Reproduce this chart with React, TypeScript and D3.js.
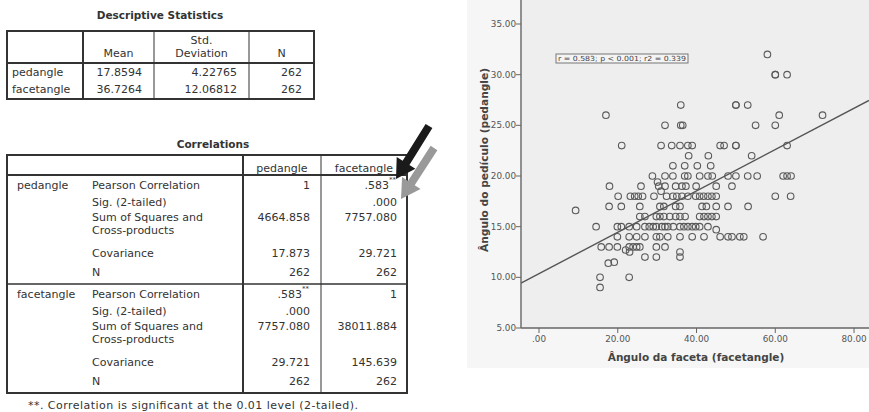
import React from "react";
import * as d3 from "d3";

// ---------- Data ----------
const descTitle = "Descriptive Statistics";
const descHeaders = ["Mean", "Std.\nDeviation", "N"];
const descVars = ["pedangle", "facetangle"];
const descMean = ["17.8594", "36.7264"];
const descSD = ["4.22765", "12.06812"];
const descN = ["262", "262"];

const corrTitle = "Correlations";
const corrVars = ["pedangle", "facetangle"];
const corrStats = ["Pearson Correlation", "Sig. (2-tailed)", "Sum of Squares and\nCross-products", "Covariance", "N"];
// values [group][stat][col]
const corrPed = [["1", ".583**"], ["", ".000"], ["4664.858", "7757.080"], ["17.873", "29.721"], ["262", "262"]];
const corrFacet = [[".583**", "1"], [".000", ""], ["7757.080", "38011.884"], ["29.721", "145.639"], ["262", "262"]];
const corrFootnote = "**. Correlation is significant at the 0.01 level (2-tailed).";

// regression from table stats
const meanX = 36.7264;
const meanY = 17.8594;
const covXY = 29.721;
const varX = 145.639;

const statLabel = "r = 0.583; p < 0.001; r2 = 0.339";
const xLabel = "Ângulo da faceta (facetangle)";
const yLabel = "Ângulo do pedículo (pedangle)";
const xTicks = [0, 20, 40, 60, 80];
const yTicks = [5, 10, 15, 20, 25, 30, 35];

// scatter points (facetangle, pedangle)
const facetAngle = [
  58, 60, 60, 63, 17, 61, 72, 36, 50, 50, 53, 32, 36, 36.5, 55, 60,
  21, 31, 33.7, 35.8, 37.8, 38.9, 46, 47, 50, 50, 63,
  38, 43, 54, 34, 37, 40.2, 43.6,
  28.8, 32, 34, 37, 37.8, 40.8, 42.9, 44, 48, 50, 53, 55.4, 62, 63, 64,
  17.9, 25.9, 30.4, 32, 34.7, 36.3, 37.3, 39.9, 45, 49, 31, 30.1,
  20.1, 23.2, 24.3, 25.2, 26.3, 29.2, 32.4, 34, 35, 36.3, 37.8, 39.8, 42.9, 45, 60, 63.9, 40.8, 41.8, 43.9,
  17.8, 20.9, 25.6, 30.7, 31.7, 34.7, 35.8, 41.4, 42.5, 45, 48, 53.1,
  9.3,
  25.6, 26.9, 29.8, 30.7, 31.7, 33.2, 34.7, 35.8, 37.1, 40.8, 41.9, 42.9, 43.9, 45,
  14.5, 19.9, 20.9, 22.9, 24.8, 26.9, 28, 29, 29.8, 31.2, 32, 32.7, 34.1, 35.8, 36.8, 37.8, 38.9, 39.8, 40.8, 42.9,
  45,
  19.9, 22.9, 24.8, 26.9, 29.8, 30.7, 32.7, 35.8, 38.9, 41.9, 46, 48, 49, 51, 52, 56.9,
  15.8, 17.8, 19.9, 22.9, 23.9, 24.8, 25.6, 29.8, 32,
  22, 23, 35.8,
  26.9, 29.8, 35.8,
  17.6, 19.1,
  15.5, 22.9,
  15.5,
];
const pedAngle = [
  32, 30, 30, 30, 26, 26, 26, 27, 27, 27, 27, 25, 25, 25, 25, 25,
  23, 23, 23, 23, 23, 23, 23, 23, 23, 23, 23,
  22, 22, 22, 21, 21, 21, 21,
  20, 20, 20, 20, 20, 20, 20, 20, 20, 20, 20, 20, 20, 20, 20,
  19, 19, 19, 19, 19, 19, 19, 19, 19, 19, 18.5, 19.4,
  18, 18, 18, 18, 18, 18, 18, 18, 18, 18, 18, 18, 18, 18, 18, 18, 18, 18, 18,
  17, 17, 17, 17, 17, 17, 17, 17, 17, 17, 17, 17,
  16.6,
  16, 16, 16, 16, 16, 16, 16, 16, 16, 16, 16, 16, 16, 16,
  15, 15, 15, 15, 15, 15, 15, 15, 15, 15, 15, 15, 15, 15, 15, 15, 15, 15, 15, 15,
  14.7,
  14, 14, 14, 14, 14, 14, 14, 14, 14, 14, 14, 14, 14, 14, 14, 14,
  13, 13, 13, 13, 13, 13, 13, 13, 13,
  12.7, 12.5, 12.5,
  12, 12, 12,
  11.4, 11.5,
  10, 10,
  9,
];

// ---------- Helpers ----------
const FONT = "'DejaVu Sans', Verdana, sans-serif";
const TXT = "#333";

function arrowPath(x1: number, y1: number, x2: number, y2: number, sw: number, hw: number, hl: number) {
  const dx = x2 - x1, dy = y2 - y1;
  const L = Math.hypot(dx, dy);
  const ux = dx / L, uy = dy / L;
  const px = -uy, py = ux;
  const bx = x2 - ux * hl, by = y2 - uy * hl;
  const pts = [
    [x1 + px * sw / 2, y1 + py * sw / 2],
    [bx + px * sw / 2, by + py * sw / 2],
    [bx + px * hw, by + py * hw],
    [x2, y2],
    [bx - px * hw, by - py * hw],
    [bx - px * sw / 2, by - py * sw / 2],
    [x1 - px * sw / 2, y1 - py * sw / 2],
  ];
  return "M" + pts.map((p) => p.join(",")).join("L") + "Z";
}

function ValueText({ x, y, v }: { x: number; y: number; v: string }) {
  if (v.endsWith("**")) {
    const base = v.slice(0, -2);
    return (
      <g>
        <text x={x - 8} y={y} textAnchor="end">{base}</text>
        <text x={x - 8} y={y - 7} fontSize={7}>**</text>
      </g>
    );
  }
  return <text x={x} y={y} textAnchor="end">{v}</text>;
}

function DescTable() {
  const cols = [7, 83, 154, 249, 314];
  const top = 31, hb = 63, bottom = 99;
  const rowY = [76, 93];
  return (
    <g fontFamily={FONT} fontSize={11} fill={TXT}>
      <text x={160} y={19} textAnchor="middle" fontWeight="bold" fontSize={10.5}>{descTitle}</text>
      {descHeaders.map((h, i) => {
        const cx = (cols[i + 1] + cols[i + 2]) / 2;
        const lines = h.split("\n");
        return lines.map((ln, j) => (
          <text key={i + "-" + j} x={cx} y={57 - (lines.length - 1 - j) * 13} textAnchor="middle">{ln}</text>
        ));
      })}
      {descVars.map((v, r) => (
        <g key={v}>
          <text x={12} y={rowY[r]}>{v}</text>
          <text x={cols[2] - 12} y={rowY[r]} textAnchor="end">{descMean[r]}</text>
          <text x={cols[3] - 12} y={rowY[r]} textAnchor="end">{descSD[r]}</text>
          <text x={cols[4] - 12} y={rowY[r]} textAnchor="end">{descN[r]}</text>
        </g>
      ))}
      <g fill="none" stroke="#333">
        <rect x={cols[0]} y={top} width={cols[4] - cols[0]} height={bottom - top} strokeWidth={2} />
        <line x1={cols[0]} x2={cols[4]} y1={hb} y2={hb} strokeWidth={2} />
        <line x1={cols[1]} x2={cols[1]} y1={top} y2={bottom} strokeWidth={2} />
        <line x1={cols[2]} x2={cols[2]} y1={top} y2={bottom} strokeWidth={1} />
        <line x1={cols[3]} x2={cols[3]} y1={top} y2={bottom} strokeWidth={1} />
      </g>
    </g>
  );
}

function CorrTable() {
  const cols = [7, 243, 321, 407];
  const top = 155, hb = 175, sep = 284, bottom = 393;
  const groupTop = [hb, sep];
  const offs = [14, 31, 46, 82, 101]; // baseline offsets from group top
  const groups = [corrPed, corrFacet];
  return (
    <g fontFamily={FONT} fontSize={11} fill={TXT}>
      <text x={213} y={148} textAnchor="middle" fontWeight="bold" fontSize={10.5}>{corrTitle}</text>
      <text x={(cols[1] + cols[2]) / 2} y={172} textAnchor="middle">{corrVars[0]}</text>
      <text x={(cols[2] + cols[3]) / 2} y={172} textAnchor="middle">{corrVars[1]}</text>
      {groups.map((g, gi) => {
        const gt = groupTop[gi];
        return (
          <g key={gi}>
            <text x={17} y={gt + offs[0]}>{corrVars[gi]}</text>
            {corrStats.map((s, si) => {
              const lines = s.split("\n");
              return (
                <g key={si}>
                  {lines.map((ln, j) => (
                    <text key={j} x={92} y={gt + offs[si] + j * 13}>{ln}</text>
                  ))}
                  <ValueText x={cols[2] - 11} y={gt + offs[si]} v={g[si][0]} />
                  <ValueText x={cols[3] - 10} y={gt + offs[si]} v={g[si][1]} />
                </g>
              );
            })}
          </g>
        );
      })}
      <text x={28} y={409} fontSize={11} textLength={330} lengthAdjust="spacing">{corrFootnote}</text>
      <g fill="none" stroke="#333">
        <rect x={cols[0]} y={top} width={cols[3] - cols[0]} height={bottom - top} strokeWidth={2} />
        <line x1={cols[0]} x2={cols[3]} y1={hb} y2={hb} strokeWidth={2} />
        <line x1={cols[0]} x2={cols[3]} y1={sep} y2={sep} strokeWidth={1.5} />
        <line x1={cols[1]} x2={cols[1]} y1={top} y2={bottom} strokeWidth={2} />
        <line x1={cols[2]} x2={cols[2]} y1={top} y2={bottom} strokeWidth={1} />
      </g>
    </g>
  );
}

function Scatter() {
  const x = d3.scaleLinear().domain([-4.57, 83.8]).range([521, 869]);
  const y = d3.scaleLinear().domain([5, 37.37]).range([328, 0]);
  const fmt = (v: number) => d3.format(".2f")(v).replace(/^0\./, ".");
  const slope = covXY / varX;
  const intercept = meanY - slope * meanX;
  const [x0, x1] = x.domain();
  const line = d3.line<number>().x((d) => x(d)).y((d) => y(intercept + slope * d));
  const axisCol = "#666";
  return (
    <g fontFamily={FONT}>
      <rect x={467} y={0} width={402} height={368} fill="#f6f6f6" />
      <rect x={521} y={0} width={348} height={328} fill="#eeeeee" />
      {facetAngle.map((fx, i) => (
        <circle key={i} cx={x(fx)} cy={y(pedAngle[i])} r={3.3} fill="none" stroke="#5a5a5a" strokeWidth={1.1} />
      ))}
      <path d={line([x0, x1]) || ""} fill="none" stroke="#555" strokeWidth={1.4} />
      {/* axes */}
      <line x1={521} x2={521} y1={0} y2={328} stroke={axisCol} strokeWidth={1.4} />
      <line x1={521} x2={869} y1={328} y2={328} stroke={axisCol} strokeWidth={1.4} />
      {yTicks.map((t) => (
        <g key={t}>
          <line x1={516} x2={521} y1={y(t)} y2={y(t)} stroke={axisCol} strokeWidth={1} />
          <text x={516} y={y(t) + 3} textAnchor="end" fontSize={8.8} fill="#555">{fmt(t)}</text>
        </g>
      ))}
      {xTicks.map((t) => (
        <g key={t}>
          <line x1={x(t)} x2={x(t)} y1={328} y2={333} stroke={axisCol} strokeWidth={1} />
          <text x={x(t)} y={342} textAnchor="middle" fontSize={8.8} fill="#555">{fmt(t)}</text>
        </g>
      ))}
      <text x={696} y={361} textAnchor="middle" fontWeight="bold" fontSize={10.5} fill="#444">{xLabel}</text>
      <text transform="translate(488,160) rotate(-90)" textAnchor="middle" fontWeight="bold" fontSize={11.2} fill="#444" textLength={184} lengthAdjust="spacingAndGlyphs">{yLabel}</text>
      <rect x={556} y={54} width={132} height={9} fill="#f4f4f4" stroke="#777" strokeWidth={1} />
      <text x={558} y={61.3} fontSize={7} fill="#444" textLength={128} lengthAdjust="spacingAndGlyphs">{statLabel}</text>
    </g>
  );
}

export default function App() {
  return (
    <svg width={869} height={412} style={{ position: "absolute", left: 0, top: 0, background: "#fff" }}>
      <rect width={869} height={412} fill="#fff" />
      <DescTable />
      <CorrTable />
      <Scatter />
      <path d={arrowPath(429, 126, 396, 179, 8, 11, 19)} fill="#1a1a1a" />
      <path d={arrowPath(434, 148, 401, 199, 8, 11, 19)} fill="#999" />
    </svg>
  );
}
